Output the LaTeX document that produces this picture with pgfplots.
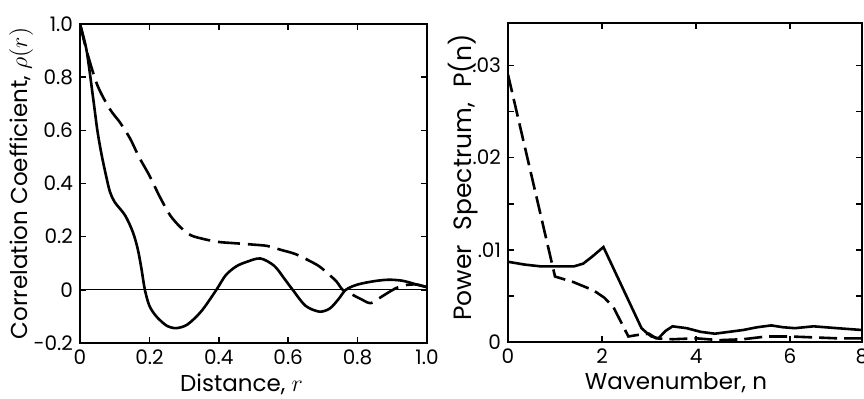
\documentclass[border=0pt]{standalone}
\usepackage{fontspec}
\setmainfont{Poppins}
\usepackage{pgfplots}
\pgfplotsset{compat=1.18}
\begin{document}
\fontsize{10pt}{12pt}\selectfont
\begin{tikzpicture}
\path[use as bounding box] (0,0) rectangle (432pt,199pt);
\pgfplotsset{
  myax/.style={
    scale only axis,
    anchor=south west,
    axis line style={line width=1.1pt},
    tick align=inside,
    major tick length=3pt,
    minor tick length=3pt,
    every tick/.style={line width=0.8pt,black},
    tick label style={font=\fontsize{10pt}{11pt}\selectfont},
    label style={font=\fontsize{11.5pt}{13pt}\selectfont},
    scaled ticks=false,
    clip=true,
  },
  solidc/.style={black,line width=1.3pt},
  dashc/.style={black,line width=1.3pt,dash pattern=on 11pt off 4pt},
}
% Left panel
\begin{axis}[myax,
  at={(40pt,27.5pt)}, width=173.5pt, height=159.5pt,
  xmin=0, xmax=1, ymin=-0.2, ymax=1.0,
  xtick={0,0.2,0.4,0.6,0.8,1.0},
  xticklabels={0,0.2,0.4,0.6,0.8,1.0},
  ytick={-0.2,0,0.2,0.4,0.6,0.8,1.0},
  yticklabels={-0.2,0,0.2,0.4,0.6,0.8,1.0},
  xlabel={Distance, $r$},
  ylabel={Correlation Coefficient, $\rho(r)$},
  xlabel style={at={(axis description cs:0.5,0)}, anchor=center, yshift=-20.5pt, xshift=-6pt},
  ylabel style={at={(axis description cs:-0.170,0.5)}, anchor=center},
]
\addplot[black, line width=0.5pt] coordinates {(0,0) (1,0)};
\addplot[solidc, smooth, tension=0.5] coordinates {
(0,1.0) (0.019,0.9) (0.038,0.72) (0.05,0.6) (0.062,0.51) (0.075,0.43) (0.086,0.37)
(0.1,0.33) (0.13,0.28) (0.153,0.215) (0.167,0.15) (0.177,0.08) (0.187,0.0)
(0.2,-0.06) (0.22,-0.1) (0.25,-0.135) (0.278,-0.144) (0.31,-0.13) (0.35,-0.08)
(0.393,0.0) (0.42,0.055) (0.45,0.088) (0.48,0.105) (0.52,0.118) (0.56,0.09)
(0.59,0.04) (0.613,0.0) (0.65,-0.06) (0.69,-0.082) (0.72,-0.07) (0.745,-0.035)
(0.766,0.0) (0.8,0.02) (0.85,0.033) (0.89,0.038) (0.93,0.034) (0.97,0.02) (1.0,0.01)
};
\addplot[dashc, smooth, tension=0.5] coordinates {
(0,1.0) (0.019,0.9) (0.05,0.77) (0.086,0.68) (0.115,0.63) (0.144,0.57) (0.17,0.5)
(0.2,0.43) (0.23,0.35) (0.26,0.28) (0.29,0.235) (0.32,0.205) (0.36,0.19) (0.4,0.18)
(0.45,0.175) (0.5,0.17) (0.54,0.165) (0.58,0.15) (0.62,0.135) (0.66,0.11) (0.69,0.088)
(0.72,0.055) (0.74,0.03) (0.757,0.0) (0.78,-0.015) (0.81,-0.035) (0.838,-0.05)
(0.87,-0.025) (0.91,0.006) (0.94,0.018) (0.97,0.02) (1.0,0.01)
};
\end{axis}
% Right panel
\begin{axis}[myax,
  at={(254pt,28pt)}, width=177pt, height=159.5pt,
  xmin=0, xmax=7.53, ymin=0, ymax=0.0346,
  xtick={0,2,4,6,7.53},
  xticklabels={0,2,4,6,8},
  ytick={0,0.01,0.02,0.03},
  yticklabels={0,.01,.02,.03},
  minor ytick={0.005,0.015,0.025},
  xlabel={Wavenumber, n},
  ylabel={Power\hspace{0.6em}Spectrum,\hspace{0.6em}P(n)},
  xlabel style={at={(axis description cs:0.5,0)}, anchor=center, yshift=-20.5pt, xshift=-4.5pt},
  ylabel style={at={(axis description cs:-0.127,0.515)}, anchor=center, font=\fontsize{12.5pt}{14pt}\selectfont},
]
\addplot[solidc] coordinates {
(0,0.0087) (0.35,0.0084) (0.7,0.0082) (1.0,0.0082) (1.4,0.0082) (1.6,0.0085)
(1.8,0.0093) (2.03,0.0103) (2.84,0.0015) (2.95,0.0010) (3.05,0.0006) (3.2,0.0004)
(3.35,0.0012) (3.5,0.0017) (3.8,0.0015) (4.1,0.0011) (4.4,0.0009) (4.7,0.0011)
(5.0,0.0013) (5.3,0.0016) (5.6,0.0018) (5.85,0.0016) (6.1,0.0015) (6.5,0.0017)
(7.0,0.0015) (7.53,0.0013)
};
\addplot[dashc, dash pattern=on 9pt off 3.5pt] coordinates {
(0,0.0290) (1.0,0.0071) (1.39,0.0065) (1.82,0.0056) (2.05,0.0048) (2.24,0.0038)
(2.4,0.0022) (2.56,0.0006) (2.8,0.0008) (3.0,0.0009) (3.15,0.0004) (3.5,0.0003)
(4.0,0.0004) (4.5,0.0002) (5.0,0.0003) (5.5,0.0006) (6.0,0.0006) (6.5,0.0005)
(7.0,0.0004) (7.53,0.0004)
};
\end{axis}
\end{tikzpicture}
\end{document}
